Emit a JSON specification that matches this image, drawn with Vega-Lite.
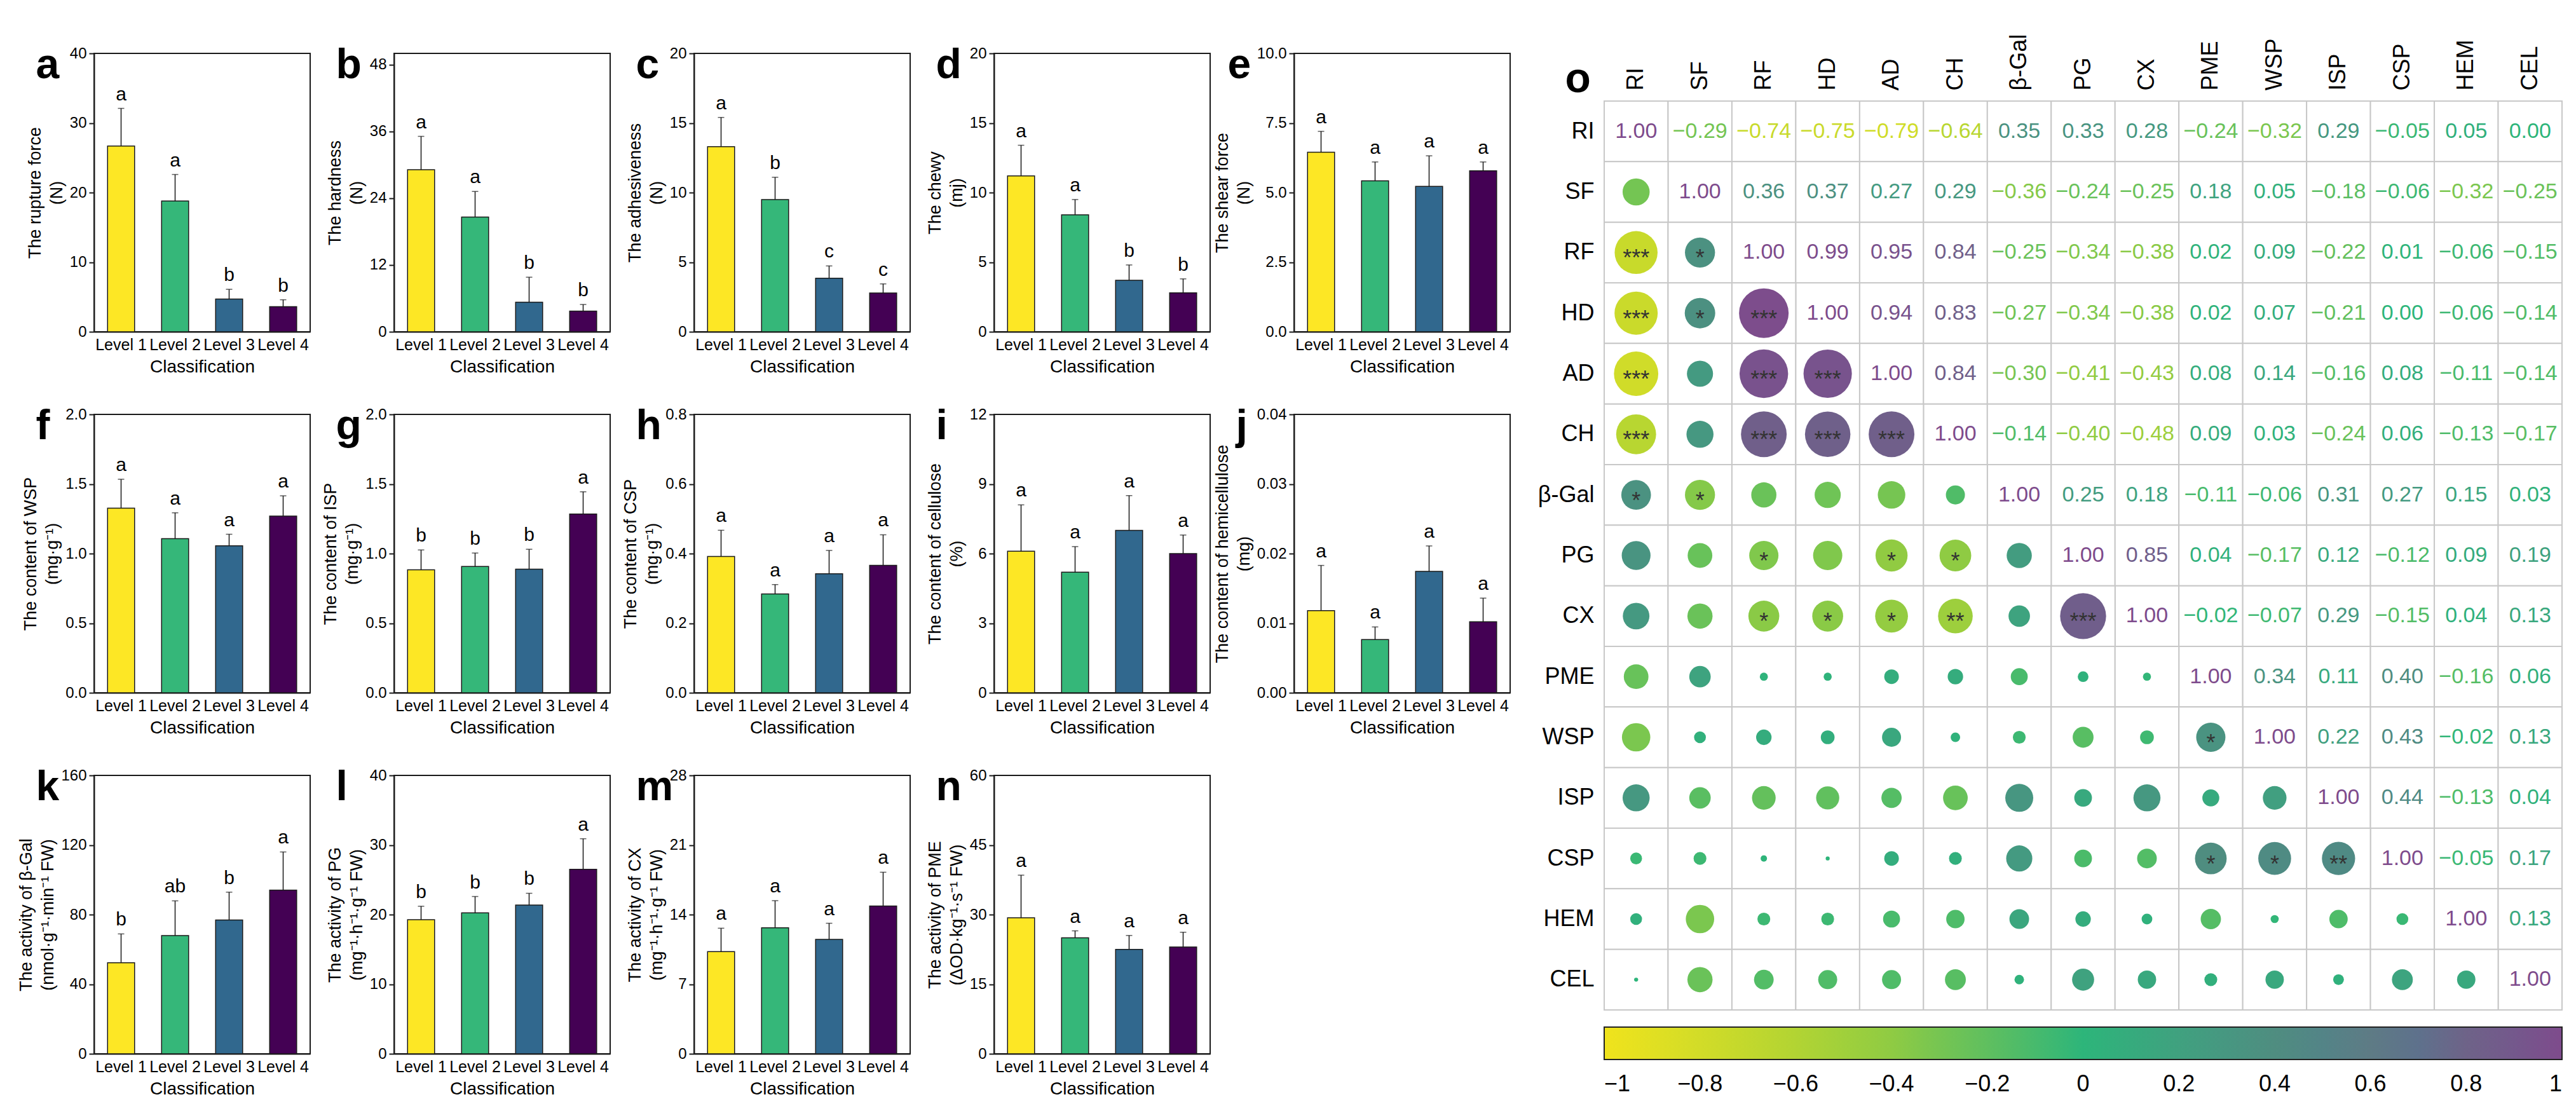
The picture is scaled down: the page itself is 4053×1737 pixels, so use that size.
{
"$schema":"https://vega.github.io/schema/vega-lite/v6.json",
"padding":{"left":26,"top":53,"right":5,"bottom":5},
"config":{
 "font":"Liberation Sans",
 "view":{"stroke":"#1a1a1a","strokeWidth":2},
 "axis":{"labelColor":"black","titleColor":"black","domainColor":"#1a1a1a","tickColor":"#1a1a1a","titleFontWeight":"normal","grid":false,"labelFont":"Liberation Sans","titleFont":"Liberation Sans"},
 "axisX":{"labelAngle":0,"labelFontSize":25,"titleFontSize":28,"ticks":false,"domainWidth":2,"labelPadding":8,"titlePadding":8},
 "axisY":{"labelFontSize":24,"titleFontSize":27,"tickSize":8,"tickWidth":2,"domainWidth":2,"labelPadding":4,"titlePadding":6,"titleLineHeight":34},
 "axisTop":{"labels":false,"ticks":false,"domain":false,"titleAngle":0,"titleAlign":"left","titleBaseline":"alphabetic","titleFontSize":66,"titleFontWeight":"bold","titleX":-92,"titleY":38},
 "legend":{"labelColor":"black","labelFont":"Liberation Sans"}
},
"datasets":{
 "a":[{"level":"Level 1","mean":26.7,"upper":32.1,"sig":"a"},{"level":"Level 2","mean":18.8,"upper":22.6,"sig":"a"},{"level":"Level 3","mean":4.7,"upper":6.1,"sig":"b"},{"level":"Level 4","mean":3.6,"upper":4.6,"sig":"b"}],
 "b":[{"level":"Level 1","mean":29.1,"upper":35.1,"sig":"a"},{"level":"Level 2","mean":20.6,"upper":25.2,"sig":"a"},{"level":"Level 3","mean":5.3,"upper":9.8,"sig":"b"},{"level":"Level 4","mean":3.7,"upper":4.9,"sig":"b"}],
 "c":[{"level":"Level 1","mean":13.3,"upper":15.4,"sig":"a"},{"level":"Level 2","mean":9.5,"upper":11.1,"sig":"b"},{"level":"Level 3","mean":3.85,"upper":4.73,"sig":"c"},{"level":"Level 4","mean":2.78,"upper":3.44,"sig":"c"}],
 "d":[{"level":"Level 1","mean":11.2,"upper":13.4,"sig":"a"},{"level":"Level 2","mean":8.4,"upper":9.5,"sig":"a"},{"level":"Level 3","mean":3.7,"upper":4.8,"sig":"b"},{"level":"Level 4","mean":2.8,"upper":3.8,"sig":"b"}],
 "e":[{"level":"Level 1","mean":6.45,"upper":7.2,"sig":"a"},{"level":"Level 2","mean":5.42,"upper":6.1,"sig":"a"},{"level":"Level 3","mean":5.22,"upper":6.32,"sig":"a"},{"level":"Level 4","mean":5.78,"upper":6.1,"sig":"a"}],
 "f":[{"level":"Level 1","mean":1.327,"upper":1.534,"sig":"a"},{"level":"Level 2","mean":1.107,"upper":1.293,"sig":"a"},{"level":"Level 3","mean":1.056,"upper":1.139,"sig":"a"},{"level":"Level 4","mean":1.269,"upper":1.415,"sig":"a"}],
 "g":[{"level":"Level 1","mean":0.883,"upper":1.026,"sig":"b"},{"level":"Level 2","mean":0.908,"upper":1.004,"sig":"b"},{"level":"Level 3","mean":0.888,"upper":1.031,"sig":"b"},{"level":"Level 4","mean":1.284,"upper":1.444,"sig":"a"}],
 "h":[{"level":"Level 1","mean":0.392,"upper":0.467,"sig":"a"},{"level":"Level 2","mean":0.284,"upper":0.311,"sig":"a"},{"level":"Level 3","mean":0.342,"upper":0.409,"sig":"a"},{"level":"Level 4","mean":0.366,"upper":0.454,"sig":"a"}],
 "i":[{"level":"Level 1","mean":6.1,"upper":8.1,"sig":"a"},{"level":"Level 2","mean":5.2,"upper":6.3,"sig":"a"},{"level":"Level 3","mean":7.0,"upper":8.5,"sig":"a"},{"level":"Level 4","mean":6.0,"upper":6.8,"sig":"a"}],
 "j":[{"level":"Level 1","mean":0.0118,"upper":0.0183,"sig":"a"},{"level":"Level 2","mean":0.00765,"upper":0.00946,"sig":"a"},{"level":"Level 3","mean":0.01744,"upper":0.0211,"sig":"a"},{"level":"Level 4","mean":0.0102,"upper":0.0136,"sig":"a"}],
 "k":[{"level":"Level 1","mean":52.3,"upper":68.9,"sig":"b"},{"level":"Level 2","mean":67.9,"upper":87.9,"sig":"ab"},{"level":"Level 3","mean":76.9,"upper":92.9,"sig":"b"},{"level":"Level 4","mean":94.1,"upper":116,"sig":"a"}],
 "l":[{"level":"Level 1","mean":19.27,"upper":21.2,"sig":"b"},{"level":"Level 2","mean":20.24,"upper":22.6,"sig":"b"},{"level":"Level 3","mean":21.36,"upper":23.06,"sig":"b"},{"level":"Level 4","mean":26.5,"upper":30.9,"sig":"a"}],
 "m":[{"level":"Level 1","mean":10.27,"upper":12.63,"sig":"a"},{"level":"Level 2","mean":12.68,"upper":15.4,"sig":"a"},{"level":"Level 3","mean":11.5,"upper":13.13,"sig":"a"},{"level":"Level 4","mean":14.87,"upper":18.26,"sig":"a"}],
 "n":[{"level":"Level 1","mean":29.3,"upper":38.5,"sig":"a"},{"level":"Level 2","mean":25.0,"upper":26.5,"sig":"a"},{"level":"Level 3","mean":22.5,"upper":25.5,"sig":"a"},{"level":"Level 4","mean":23.0,"upper":26.2,"sig":"a"}],
 "corr":[
{"row":"RI","col":"RI","r":1,"part":"u"},{"row":"RI","col":"SF","r":-0.29,"part":"u"},{"row":"RI","col":"RF","r":-0.74,"part":"u"},{"row":"RI","col":"HD","r":-0.75,"part":"u"},{"row":"RI","col":"AD","r":-0.79,"part":"u"},{"row":"RI","col":"CH","r":-0.64,"part":"u"},{"row":"RI","col":"β-Gal","r":0.35,"part":"u"},{"row":"RI","col":"PG","r":0.33,"part":"u"},{"row":"RI","col":"CX","r":0.28,"part":"u"},{"row":"RI","col":"PME","r":-0.24,"part":"u"},{"row":"RI","col":"WSP","r":-0.32,"part":"u"},{"row":"RI","col":"ISP","r":0.29,"part":"u"},{"row":"RI","col":"CSP","r":-0.05,"part":"u"},{"row":"RI","col":"HEM","r":0.05,"part":"u"},{"row":"RI","col":"CEL","r":0,"part":"u"},
{"row":"SF","col":"SF","r":1,"part":"u"},{"row":"SF","col":"RF","r":0.36,"part":"u"},{"row":"SF","col":"HD","r":0.37,"part":"u"},{"row":"SF","col":"AD","r":0.27,"part":"u"},{"row":"SF","col":"CH","r":0.29,"part":"u"},{"row":"SF","col":"β-Gal","r":-0.36,"part":"u"},{"row":"SF","col":"PG","r":-0.24,"part":"u"},{"row":"SF","col":"CX","r":-0.25,"part":"u"},{"row":"SF","col":"PME","r":0.18,"part":"u"},{"row":"SF","col":"WSP","r":0.05,"part":"u"},{"row":"SF","col":"ISP","r":-0.18,"part":"u"},{"row":"SF","col":"CSP","r":-0.06,"part":"u"},{"row":"SF","col":"HEM","r":-0.32,"part":"u"},{"row":"SF","col":"CEL","r":-0.25,"part":"u"},
{"row":"RF","col":"RF","r":1,"part":"u"},{"row":"RF","col":"HD","r":0.99,"part":"u"},{"row":"RF","col":"AD","r":0.95,"part":"u"},{"row":"RF","col":"CH","r":0.84,"part":"u"},{"row":"RF","col":"β-Gal","r":-0.25,"part":"u"},{"row":"RF","col":"PG","r":-0.34,"part":"u"},{"row":"RF","col":"CX","r":-0.38,"part":"u"},{"row":"RF","col":"PME","r":0.02,"part":"u"},{"row":"RF","col":"WSP","r":0.09,"part":"u"},{"row":"RF","col":"ISP","r":-0.22,"part":"u"},{"row":"RF","col":"CSP","r":0.01,"part":"u"},{"row":"RF","col":"HEM","r":-0.06,"part":"u"},{"row":"RF","col":"CEL","r":-0.15,"part":"u"},
{"row":"HD","col":"HD","r":1,"part":"u"},{"row":"HD","col":"AD","r":0.94,"part":"u"},{"row":"HD","col":"CH","r":0.83,"part":"u"},{"row":"HD","col":"β-Gal","r":-0.27,"part":"u"},{"row":"HD","col":"PG","r":-0.34,"part":"u"},{"row":"HD","col":"CX","r":-0.38,"part":"u"},{"row":"HD","col":"PME","r":0.02,"part":"u"},{"row":"HD","col":"WSP","r":0.07,"part":"u"},{"row":"HD","col":"ISP","r":-0.21,"part":"u"},{"row":"HD","col":"CSP","r":0,"part":"u"},{"row":"HD","col":"HEM","r":-0.06,"part":"u"},{"row":"HD","col":"CEL","r":-0.14,"part":"u"},
{"row":"AD","col":"AD","r":1,"part":"u"},{"row":"AD","col":"CH","r":0.84,"part":"u"},{"row":"AD","col":"β-Gal","r":-0.30,"part":"u"},{"row":"AD","col":"PG","r":-0.41,"part":"u"},{"row":"AD","col":"CX","r":-0.43,"part":"u"},{"row":"AD","col":"PME","r":0.08,"part":"u"},{"row":"AD","col":"WSP","r":0.14,"part":"u"},{"row":"AD","col":"ISP","r":-0.16,"part":"u"},{"row":"AD","col":"CSP","r":0.08,"part":"u"},{"row":"AD","col":"HEM","r":-0.11,"part":"u"},{"row":"AD","col":"CEL","r":-0.14,"part":"u"},
{"row":"CH","col":"CH","r":1,"part":"u"},{"row":"CH","col":"β-Gal","r":-0.14,"part":"u"},{"row":"CH","col":"PG","r":-0.40,"part":"u"},{"row":"CH","col":"CX","r":-0.48,"part":"u"},{"row":"CH","col":"PME","r":0.09,"part":"u"},{"row":"CH","col":"WSP","r":0.03,"part":"u"},{"row":"CH","col":"ISP","r":-0.24,"part":"u"},{"row":"CH","col":"CSP","r":0.06,"part":"u"},{"row":"CH","col":"HEM","r":-0.13,"part":"u"},{"row":"CH","col":"CEL","r":-0.17,"part":"u"},
{"row":"β-Gal","col":"β-Gal","r":1,"part":"u"},{"row":"β-Gal","col":"PG","r":0.25,"part":"u"},{"row":"β-Gal","col":"CX","r":0.18,"part":"u"},{"row":"β-Gal","col":"PME","r":-0.11,"part":"u"},{"row":"β-Gal","col":"WSP","r":-0.06,"part":"u"},{"row":"β-Gal","col":"ISP","r":0.31,"part":"u"},{"row":"β-Gal","col":"CSP","r":0.27,"part":"u"},{"row":"β-Gal","col":"HEM","r":0.15,"part":"u"},{"row":"β-Gal","col":"CEL","r":0.03,"part":"u"},
{"row":"PG","col":"PG","r":1,"part":"u"},{"row":"PG","col":"CX","r":0.85,"part":"u"},{"row":"PG","col":"PME","r":0.04,"part":"u"},{"row":"PG","col":"WSP","r":-0.17,"part":"u"},{"row":"PG","col":"ISP","r":0.12,"part":"u"},{"row":"PG","col":"CSP","r":-0.12,"part":"u"},{"row":"PG","col":"HEM","r":0.09,"part":"u"},{"row":"PG","col":"CEL","r":0.19,"part":"u"},
{"row":"CX","col":"CX","r":1,"part":"u"},{"row":"CX","col":"PME","r":-0.02,"part":"u"},{"row":"CX","col":"WSP","r":-0.07,"part":"u"},{"row":"CX","col":"ISP","r":0.29,"part":"u"},{"row":"CX","col":"CSP","r":-0.15,"part":"u"},{"row":"CX","col":"HEM","r":0.04,"part":"u"},{"row":"CX","col":"CEL","r":0.13,"part":"u"},
{"row":"PME","col":"PME","r":1,"part":"u"},{"row":"PME","col":"WSP","r":0.34,"part":"u"},{"row":"PME","col":"ISP","r":0.11,"part":"u"},{"row":"PME","col":"CSP","r":0.40,"part":"u"},{"row":"PME","col":"HEM","r":-0.16,"part":"u"},{"row":"PME","col":"CEL","r":0.06,"part":"u"},
{"row":"WSP","col":"WSP","r":1,"part":"u"},{"row":"WSP","col":"ISP","r":0.22,"part":"u"},{"row":"WSP","col":"CSP","r":0.43,"part":"u"},{"row":"WSP","col":"HEM","r":-0.02,"part":"u"},{"row":"WSP","col":"CEL","r":0.13,"part":"u"},
{"row":"ISP","col":"ISP","r":1,"part":"u"},{"row":"ISP","col":"CSP","r":0.44,"part":"u"},{"row":"ISP","col":"HEM","r":-0.13,"part":"u"},{"row":"ISP","col":"CEL","r":0.04,"part":"u"},
{"row":"CSP","col":"CSP","r":1,"part":"u"},{"row":"CSP","col":"HEM","r":-0.05,"part":"u"},{"row":"CSP","col":"CEL","r":0.17,"part":"u"},
{"row":"HEM","col":"HEM","r":1,"part":"u"},{"row":"HEM","col":"CEL","r":0.13,"part":"u"},
{"row":"CEL","col":"CEL","r":1,"part":"u"},
{"row":"SF","col":"RI","r":-0.29,"part":"l"},
{"row":"RF","col":"RI","r":-0.74,"part":"l","sig":"***"},{"row":"RF","col":"SF","r":0.36,"part":"l","sig":"*"},
{"row":"HD","col":"RI","r":-0.75,"part":"l","sig":"***"},{"row":"HD","col":"SF","r":0.37,"part":"l","sig":"*"},{"row":"HD","col":"RF","r":0.99,"part":"l","sig":"***"},
{"row":"AD","col":"RI","r":-0.79,"part":"l","sig":"***"},{"row":"AD","col":"SF","r":0.27,"part":"l"},{"row":"AD","col":"RF","r":0.95,"part":"l","sig":"***"},{"row":"AD","col":"HD","r":0.94,"part":"l","sig":"***"},
{"row":"CH","col":"RI","r":-0.64,"part":"l","sig":"***"},{"row":"CH","col":"SF","r":0.29,"part":"l"},{"row":"CH","col":"RF","r":0.84,"part":"l","sig":"***"},{"row":"CH","col":"HD","r":0.83,"part":"l","sig":"***"},{"row":"CH","col":"AD","r":0.84,"part":"l","sig":"***"},
{"row":"β-Gal","col":"RI","r":0.35,"part":"l","sig":"*"},{"row":"β-Gal","col":"SF","r":-0.36,"part":"l","sig":"*"},{"row":"β-Gal","col":"RF","r":-0.25,"part":"l"},{"row":"β-Gal","col":"HD","r":-0.27,"part":"l"},{"row":"β-Gal","col":"AD","r":-0.30,"part":"l"},{"row":"β-Gal","col":"CH","r":-0.14,"part":"l"},
{"row":"PG","col":"RI","r":0.33,"part":"l"},{"row":"PG","col":"SF","r":-0.24,"part":"l"},{"row":"PG","col":"RF","r":-0.34,"part":"l","sig":"*"},{"row":"PG","col":"HD","r":-0.34,"part":"l"},{"row":"PG","col":"AD","r":-0.41,"part":"l","sig":"*"},{"row":"PG","col":"CH","r":-0.40,"part":"l","sig":"*"},{"row":"PG","col":"β-Gal","r":0.25,"part":"l"},
{"row":"CX","col":"RI","r":0.28,"part":"l"},{"row":"CX","col":"SF","r":-0.25,"part":"l"},{"row":"CX","col":"RF","r":-0.38,"part":"l","sig":"*"},{"row":"CX","col":"HD","r":-0.38,"part":"l","sig":"*"},{"row":"CX","col":"AD","r":-0.43,"part":"l","sig":"*"},{"row":"CX","col":"CH","r":-0.48,"part":"l","sig":"**"},{"row":"CX","col":"β-Gal","r":0.18,"part":"l"},{"row":"CX","col":"PG","r":0.85,"part":"l","sig":"***"},
{"row":"PME","col":"RI","r":-0.24,"part":"l"},{"row":"PME","col":"SF","r":0.18,"part":"l"},{"row":"PME","col":"RF","r":0.02,"part":"l"},{"row":"PME","col":"HD","r":0.02,"part":"l"},{"row":"PME","col":"AD","r":0.08,"part":"l"},{"row":"PME","col":"CH","r":0.09,"part":"l"},{"row":"PME","col":"β-Gal","r":-0.11,"part":"l"},{"row":"PME","col":"PG","r":0.04,"part":"l"},{"row":"PME","col":"CX","r":-0.02,"part":"l"},
{"row":"WSP","col":"RI","r":-0.32,"part":"l"},{"row":"WSP","col":"SF","r":0.05,"part":"l"},{"row":"WSP","col":"RF","r":0.09,"part":"l"},{"row":"WSP","col":"HD","r":0.07,"part":"l"},{"row":"WSP","col":"AD","r":0.14,"part":"l"},{"row":"WSP","col":"CH","r":0.03,"part":"l"},{"row":"WSP","col":"β-Gal","r":-0.06,"part":"l"},{"row":"WSP","col":"PG","r":-0.17,"part":"l"},{"row":"WSP","col":"CX","r":-0.07,"part":"l"},{"row":"WSP","col":"PME","r":0.34,"part":"l","sig":"*"},
{"row":"ISP","col":"RI","r":0.29,"part":"l"},{"row":"ISP","col":"SF","r":-0.18,"part":"l"},{"row":"ISP","col":"RF","r":-0.22,"part":"l"},{"row":"ISP","col":"HD","r":-0.21,"part":"l"},{"row":"ISP","col":"AD","r":-0.16,"part":"l"},{"row":"ISP","col":"CH","r":-0.24,"part":"l"},{"row":"ISP","col":"β-Gal","r":0.31,"part":"l"},{"row":"ISP","col":"PG","r":0.12,"part":"l"},{"row":"ISP","col":"CX","r":0.29,"part":"l"},{"row":"ISP","col":"PME","r":0.11,"part":"l"},{"row":"ISP","col":"WSP","r":0.22,"part":"l"},
{"row":"CSP","col":"RI","r":-0.05,"part":"l"},{"row":"CSP","col":"SF","r":-0.06,"part":"l"},{"row":"CSP","col":"RF","r":0.01,"part":"l"},{"row":"CSP","col":"HD","r":0,"part":"l"},{"row":"CSP","col":"AD","r":0.08,"part":"l"},{"row":"CSP","col":"CH","r":0.06,"part":"l"},{"row":"CSP","col":"β-Gal","r":0.27,"part":"l"},{"row":"CSP","col":"PG","r":-0.12,"part":"l"},{"row":"CSP","col":"CX","r":-0.15,"part":"l"},{"row":"CSP","col":"PME","r":0.40,"part":"l","sig":"*"},{"row":"CSP","col":"WSP","r":0.43,"part":"l","sig":"*"},{"row":"CSP","col":"ISP","r":0.44,"part":"l","sig":"**"},
{"row":"HEM","col":"RI","r":0.05,"part":"l"},{"row":"HEM","col":"SF","r":-0.32,"part":"l"},{"row":"HEM","col":"RF","r":-0.06,"part":"l"},{"row":"HEM","col":"HD","r":-0.06,"part":"l"},{"row":"HEM","col":"AD","r":-0.11,"part":"l"},{"row":"HEM","col":"CH","r":-0.13,"part":"l"},{"row":"HEM","col":"β-Gal","r":0.15,"part":"l"},{"row":"HEM","col":"PG","r":0.09,"part":"l"},{"row":"HEM","col":"CX","r":0.04,"part":"l"},{"row":"HEM","col":"PME","r":-0.16,"part":"l"},{"row":"HEM","col":"WSP","r":-0.02,"part":"l"},{"row":"HEM","col":"ISP","r":-0.13,"part":"l"},{"row":"HEM","col":"CSP","r":-0.05,"part":"l"},
{"row":"CEL","col":"RI","r":0,"part":"l"},{"row":"CEL","col":"SF","r":-0.25,"part":"l"},{"row":"CEL","col":"RF","r":-0.15,"part":"l"},{"row":"CEL","col":"HD","r":-0.14,"part":"l"},{"row":"CEL","col":"AD","r":-0.14,"part":"l"},{"row":"CEL","col":"CH","r":-0.17,"part":"l"},{"row":"CEL","col":"β-Gal","r":0.03,"part":"l"},{"row":"CEL","col":"PG","r":0.19,"part":"l"},{"row":"CEL","col":"CX","r":0.13,"part":"l"},{"row":"CEL","col":"PME","r":0.06,"part":"l"},{"row":"CEL","col":"WSP","r":0.13,"part":"l"},{"row":"CEL","col":"ISP","r":0.04,"part":"l"},{"row":"CEL","col":"CSP","r":0.17,"part":"l"},{"row":"CEL","col":"HEM","r":0.13,"part":"l"}
 ]
},
"resolve":{"scale":{"color":"independent","size":"independent"},"legend":{"color":"independent","size":"independent"}},
"spacing":42,
"hconcat":[
 {"vconcat":[
  {"hconcat":[
   {"width":340,"height":438,"data":{"name":"a"},
    "layer":[
     {"mark":{"type":"bar","width":{"band":0.5},"stroke":"#1a1a1a","strokeWidth":1.5},"encoding":{"x":{"field":"level","type":"nominal","scale":{"paddingInner":0,"paddingOuter":0},"axis":{"orient":"bottom","title":"Classification"}},"y":{"field":"mean","type":"quantitative","scale":{"domain":[0,40]},"axis":{"values":[0,10,20,30,40],"title":["The rupture force","(N)"]}},"color":{"field":"level","type":"nominal","scale":{"domain":["Level 1","Level 2","Level 3","Level 4"],"range":["#fde725","#35b779","#31688e","#440154"]},"legend":null}}},
     {"mark":{"type":"rule","color":"#1a1a1a","strokeWidth":1.5},"encoding":{"x":{"field":"level","type":"nominal","axis":null},"y":{"field":"mean","type":"quantitative"},"y2":{"field":"upper"}}},
     {"mark":{"type":"tick","color":"#1a1a1a","thickness":1.5,"size":10},"encoding":{"x":{"field":"level","type":"nominal","axis":null},"y":{"field":"upper","type":"quantitative"}}},
     {"mark":{"type":"text","baseline":"bottom","dy":-7,"fontSize":30},"encoding":{"x":{"field":"level","type":"nominal","axis":{"orient":"top","title":"a"}},"y":{"field":"upper","type":"quantitative"},"text":{"field":"sig"}}}
    ]},
   {"width":340,"height":438,"data":{"name":"b"},
    "layer":[
     {"mark":{"type":"bar","width":{"band":0.5},"stroke":"#1a1a1a","strokeWidth":1.5},"encoding":{"x":{"field":"level","type":"nominal","scale":{"paddingInner":0,"paddingOuter":0},"axis":{"orient":"bottom","title":"Classification"}},"y":{"field":"mean","type":"quantitative","scale":{"domain":[0,50]},"axis":{"values":[0,12,24,36,48],"title":["The hardness","(N)"]}},"color":{"field":"level","type":"nominal","scale":{"domain":["Level 1","Level 2","Level 3","Level 4"],"range":["#fde725","#35b779","#31688e","#440154"]},"legend":null}}},
     {"mark":{"type":"rule","color":"#1a1a1a","strokeWidth":1.5},"encoding":{"x":{"field":"level","type":"nominal","axis":null},"y":{"field":"mean","type":"quantitative"},"y2":{"field":"upper"}}},
     {"mark":{"type":"tick","color":"#1a1a1a","thickness":1.5,"size":10},"encoding":{"x":{"field":"level","type":"nominal","axis":null},"y":{"field":"upper","type":"quantitative"}}},
     {"mark":{"type":"text","baseline":"bottom","dy":-7,"fontSize":30},"encoding":{"x":{"field":"level","type":"nominal","axis":{"orient":"top","title":"b"}},"y":{"field":"upper","type":"quantitative"},"text":{"field":"sig"}}}
    ]},
   {"width":340,"height":438,"data":{"name":"c"},
    "layer":[
     {"mark":{"type":"bar","width":{"band":0.5},"stroke":"#1a1a1a","strokeWidth":1.5},"encoding":{"x":{"field":"level","type":"nominal","scale":{"paddingInner":0,"paddingOuter":0},"axis":{"orient":"bottom","title":"Classification"}},"y":{"field":"mean","type":"quantitative","scale":{"domain":[0,20]},"axis":{"values":[0,5,10,15,20],"title":["The adhesiveness","(N)"]}},"color":{"field":"level","type":"nominal","scale":{"domain":["Level 1","Level 2","Level 3","Level 4"],"range":["#fde725","#35b779","#31688e","#440154"]},"legend":null}}},
     {"mark":{"type":"rule","color":"#1a1a1a","strokeWidth":1.5},"encoding":{"x":{"field":"level","type":"nominal","axis":null},"y":{"field":"mean","type":"quantitative"},"y2":{"field":"upper"}}},
     {"mark":{"type":"tick","color":"#1a1a1a","thickness":1.5,"size":10},"encoding":{"x":{"field":"level","type":"nominal","axis":null},"y":{"field":"upper","type":"quantitative"}}},
     {"mark":{"type":"text","baseline":"bottom","dy":-7,"fontSize":30},"encoding":{"x":{"field":"level","type":"nominal","axis":{"orient":"top","title":"c"}},"y":{"field":"upper","type":"quantitative"},"text":{"field":"sig"}}}
    ]},
   {"width":340,"height":438,"data":{"name":"d"},
    "layer":[
     {"mark":{"type":"bar","width":{"band":0.5},"stroke":"#1a1a1a","strokeWidth":1.5},"encoding":{"x":{"field":"level","type":"nominal","scale":{"paddingInner":0,"paddingOuter":0},"axis":{"orient":"bottom","title":"Classification"}},"y":{"field":"mean","type":"quantitative","scale":{"domain":[0,20]},"axis":{"values":[0,5,10,15,20],"title":["The chewy","(mj)"]}},"color":{"field":"level","type":"nominal","scale":{"domain":["Level 1","Level 2","Level 3","Level 4"],"range":["#fde725","#35b779","#31688e","#440154"]},"legend":null}}},
     {"mark":{"type":"rule","color":"#1a1a1a","strokeWidth":1.5},"encoding":{"x":{"field":"level","type":"nominal","axis":null},"y":{"field":"mean","type":"quantitative"},"y2":{"field":"upper"}}},
     {"mark":{"type":"tick","color":"#1a1a1a","thickness":1.5,"size":10},"encoding":{"x":{"field":"level","type":"nominal","axis":null},"y":{"field":"upper","type":"quantitative"}}},
     {"mark":{"type":"text","baseline":"bottom","dy":-7,"fontSize":30},"encoding":{"x":{"field":"level","type":"nominal","axis":{"orient":"top","title":"d"}},"y":{"field":"upper","type":"quantitative"},"text":{"field":"sig"}}}
    ]},
   {"width":340,"height":438,"data":{"name":"e"},
    "layer":[
     {"mark":{"type":"bar","width":{"band":0.5},"stroke":"#1a1a1a","strokeWidth":1.5},"encoding":{"x":{"field":"level","type":"nominal","scale":{"paddingInner":0,"paddingOuter":0},"axis":{"orient":"bottom","title":"Classification"}},"y":{"field":"mean","type":"quantitative","scale":{"domain":[0,10]},"axis":{"values":[0,2.5,5,7.5,10],"format":".1f","title":["The shear force","(N)"]}},"color":{"field":"level","type":"nominal","scale":{"domain":["Level 1","Level 2","Level 3","Level 4"],"range":["#fde725","#35b779","#31688e","#440154"]},"legend":null}}},
     {"mark":{"type":"rule","color":"#1a1a1a","strokeWidth":1.5},"encoding":{"x":{"field":"level","type":"nominal","axis":null},"y":{"field":"mean","type":"quantitative"},"y2":{"field":"upper"}}},
     {"mark":{"type":"tick","color":"#1a1a1a","thickness":1.5,"size":10},"encoding":{"x":{"field":"level","type":"nominal","axis":null},"y":{"field":"upper","type":"quantitative"}}},
     {"mark":{"type":"text","baseline":"bottom","dy":-7,"fontSize":30},"encoding":{"x":{"field":"level","type":"nominal","axis":{"orient":"top","title":"e","titleX":-105}},"y":{"field":"upper","type":"quantitative"},"text":{"field":"sig"}}}
    ]}
  ],"spacing":132,"bounds":"flush"},
  {"hconcat":[
   {"width":340,"height":438,"data":{"name":"f"},
    "layer":[
     {"mark":{"type":"bar","width":{"band":0.5},"stroke":"#1a1a1a","strokeWidth":1.5},"encoding":{"x":{"field":"level","type":"nominal","scale":{"paddingInner":0,"paddingOuter":0},"axis":{"orient":"bottom","title":"Classification"}},"y":{"field":"mean","type":"quantitative","scale":{"domain":[0,2]},"axis":{"values":[0,0.5,1,1.5,2],"format":".1f","title":["The content of WSP","(mg·g⁻¹)"]}},"color":{"field":"level","type":"nominal","scale":{"domain":["Level 1","Level 2","Level 3","Level 4"],"range":["#fde725","#35b779","#31688e","#440154"]},"legend":null}}},
     {"mark":{"type":"rule","color":"#1a1a1a","strokeWidth":1.5},"encoding":{"x":{"field":"level","type":"nominal","axis":null},"y":{"field":"mean","type":"quantitative"},"y2":{"field":"upper"}}},
     {"mark":{"type":"tick","color":"#1a1a1a","thickness":1.5,"size":10},"encoding":{"x":{"field":"level","type":"nominal","axis":null},"y":{"field":"upper","type":"quantitative"}}},
     {"mark":{"type":"text","baseline":"bottom","dy":-7,"fontSize":30},"encoding":{"x":{"field":"level","type":"nominal","axis":{"orient":"top","title":"f"}},"y":{"field":"upper","type":"quantitative"},"text":{"field":"sig"}}}
    ]},
   {"width":340,"height":438,"data":{"name":"g"},
    "layer":[
     {"mark":{"type":"bar","width":{"band":0.5},"stroke":"#1a1a1a","strokeWidth":1.5},"encoding":{"x":{"field":"level","type":"nominal","scale":{"paddingInner":0,"paddingOuter":0},"axis":{"orient":"bottom","title":"Classification"}},"y":{"field":"mean","type":"quantitative","scale":{"domain":[0,2]},"axis":{"values":[0,0.5,1,1.5,2],"format":".1f","title":["The content of ISP","(mg·g⁻¹)"]}},"color":{"field":"level","type":"nominal","scale":{"domain":["Level 1","Level 2","Level 3","Level 4"],"range":["#fde725","#35b779","#31688e","#440154"]},"legend":null}}},
     {"mark":{"type":"rule","color":"#1a1a1a","strokeWidth":1.5},"encoding":{"x":{"field":"level","type":"nominal","axis":null},"y":{"field":"mean","type":"quantitative"},"y2":{"field":"upper"}}},
     {"mark":{"type":"tick","color":"#1a1a1a","thickness":1.5,"size":10},"encoding":{"x":{"field":"level","type":"nominal","axis":null},"y":{"field":"upper","type":"quantitative"}}},
     {"mark":{"type":"text","baseline":"bottom","dy":-7,"fontSize":30},"encoding":{"x":{"field":"level","type":"nominal","axis":{"orient":"top","title":"g"}},"y":{"field":"upper","type":"quantitative"},"text":{"field":"sig"}}}
    ]},
   {"width":340,"height":438,"data":{"name":"h"},
    "layer":[
     {"mark":{"type":"bar","width":{"band":0.5},"stroke":"#1a1a1a","strokeWidth":1.5},"encoding":{"x":{"field":"level","type":"nominal","scale":{"paddingInner":0,"paddingOuter":0},"axis":{"orient":"bottom","title":"Classification"}},"y":{"field":"mean","type":"quantitative","scale":{"domain":[0,0.8]},"axis":{"values":[0,0.2,0.4,0.6,0.8],"format":".1f","title":["The content of CSP","(mg·g⁻¹)"]}},"color":{"field":"level","type":"nominal","scale":{"domain":["Level 1","Level 2","Level 3","Level 4"],"range":["#fde725","#35b779","#31688e","#440154"]},"legend":null}}},
     {"mark":{"type":"rule","color":"#1a1a1a","strokeWidth":1.5},"encoding":{"x":{"field":"level","type":"nominal","axis":null},"y":{"field":"mean","type":"quantitative"},"y2":{"field":"upper"}}},
     {"mark":{"type":"tick","color":"#1a1a1a","thickness":1.5,"size":10},"encoding":{"x":{"field":"level","type":"nominal","axis":null},"y":{"field":"upper","type":"quantitative"}}},
     {"mark":{"type":"text","baseline":"bottom","dy":-7,"fontSize":30},"encoding":{"x":{"field":"level","type":"nominal","axis":{"orient":"top","title":"h"}},"y":{"field":"upper","type":"quantitative"},"text":{"field":"sig"}}}
    ]},
   {"width":340,"height":438,"data":{"name":"i"},
    "layer":[
     {"mark":{"type":"bar","width":{"band":0.5},"stroke":"#1a1a1a","strokeWidth":1.5},"encoding":{"x":{"field":"level","type":"nominal","scale":{"paddingInner":0,"paddingOuter":0},"axis":{"orient":"bottom","title":"Classification"}},"y":{"field":"mean","type":"quantitative","scale":{"domain":[0,12]},"axis":{"values":[0,3,6,9,12],"title":["The content of cellulose","(%)"]}},"color":{"field":"level","type":"nominal","scale":{"domain":["Level 1","Level 2","Level 3","Level 4"],"range":["#fde725","#35b779","#31688e","#440154"]},"legend":null}}},
     {"mark":{"type":"rule","color":"#1a1a1a","strokeWidth":1.5},"encoding":{"x":{"field":"level","type":"nominal","axis":null},"y":{"field":"mean","type":"quantitative"},"y2":{"field":"upper"}}},
     {"mark":{"type":"tick","color":"#1a1a1a","thickness":1.5,"size":10},"encoding":{"x":{"field":"level","type":"nominal","axis":null},"y":{"field":"upper","type":"quantitative"}}},
     {"mark":{"type":"text","baseline":"bottom","dy":-7,"fontSize":30},"encoding":{"x":{"field":"level","type":"nominal","axis":{"orient":"top","title":"i"}},"y":{"field":"upper","type":"quantitative"},"text":{"field":"sig"}}}
    ]},
   {"width":340,"height":438,"data":{"name":"j"},
    "layer":[
     {"mark":{"type":"bar","width":{"band":0.5},"stroke":"#1a1a1a","strokeWidth":1.5},"encoding":{"x":{"field":"level","type":"nominal","scale":{"paddingInner":0,"paddingOuter":0},"axis":{"orient":"bottom","title":"Classification"}},"y":{"field":"mean","type":"quantitative","scale":{"domain":[0,0.04]},"axis":{"values":[0,0.01,0.02,0.03,0.04],"format":".2f","title":["The content of hemicellulose","(mg)"]}},"color":{"field":"level","type":"nominal","scale":{"domain":["Level 1","Level 2","Level 3","Level 4"],"range":["#fde725","#35b779","#31688e","#440154"]},"legend":null}}},
     {"mark":{"type":"rule","color":"#1a1a1a","strokeWidth":1.5},"encoding":{"x":{"field":"level","type":"nominal","axis":null},"y":{"field":"mean","type":"quantitative"},"y2":{"field":"upper"}}},
     {"mark":{"type":"tick","color":"#1a1a1a","thickness":1.5,"size":10},"encoding":{"x":{"field":"level","type":"nominal","axis":null},"y":{"field":"upper","type":"quantitative"}}},
     {"mark":{"type":"text","baseline":"bottom","dy":-7,"fontSize":30},"encoding":{"x":{"field":"level","type":"nominal","axis":{"orient":"top","title":"j"}},"y":{"field":"upper","type":"quantitative"},"text":{"field":"sig"}}}
    ]}
  ],"spacing":132,"bounds":"flush"},
  {"hconcat":[
   {"width":340,"height":438,"data":{"name":"k"},
    "layer":[
     {"mark":{"type":"bar","width":{"band":0.5},"stroke":"#1a1a1a","strokeWidth":1.5},"encoding":{"x":{"field":"level","type":"nominal","scale":{"paddingInner":0,"paddingOuter":0},"axis":{"orient":"bottom","title":"Classification"}},"y":{"field":"mean","type":"quantitative","scale":{"domain":[0,160]},"axis":{"values":[0,40,80,120,160],"title":["The activity of β-Gal","(nmol·g⁻¹·min⁻¹ FW)"]}},"color":{"field":"level","type":"nominal","scale":{"domain":["Level 1","Level 2","Level 3","Level 4"],"range":["#fde725","#35b779","#31688e","#440154"]},"legend":null}}},
     {"mark":{"type":"rule","color":"#1a1a1a","strokeWidth":1.5},"encoding":{"x":{"field":"level","type":"nominal","axis":null},"y":{"field":"mean","type":"quantitative"},"y2":{"field":"upper"}}},
     {"mark":{"type":"tick","color":"#1a1a1a","thickness":1.5,"size":10},"encoding":{"x":{"field":"level","type":"nominal","axis":null},"y":{"field":"upper","type":"quantitative"}}},
     {"mark":{"type":"text","baseline":"bottom","dy":-7,"fontSize":30},"encoding":{"x":{"field":"level","type":"nominal","axis":{"orient":"top","title":"k"}},"y":{"field":"upper","type":"quantitative"},"text":{"field":"sig"}}}
    ]},
   {"width":340,"height":438,"data":{"name":"l"},
    "layer":[
     {"mark":{"type":"bar","width":{"band":0.5},"stroke":"#1a1a1a","strokeWidth":1.5},"encoding":{"x":{"field":"level","type":"nominal","scale":{"paddingInner":0,"paddingOuter":0},"axis":{"orient":"bottom","title":"Classification"}},"y":{"field":"mean","type":"quantitative","scale":{"domain":[0,40]},"axis":{"values":[0,10,20,30,40],"title":["The activity of PG","(mg⁻¹·h⁻¹·g⁻¹ FW)"]}},"color":{"field":"level","type":"nominal","scale":{"domain":["Level 1","Level 2","Level 3","Level 4"],"range":["#fde725","#35b779","#31688e","#440154"]},"legend":null}}},
     {"mark":{"type":"rule","color":"#1a1a1a","strokeWidth":1.5},"encoding":{"x":{"field":"level","type":"nominal","axis":null},"y":{"field":"mean","type":"quantitative"},"y2":{"field":"upper"}}},
     {"mark":{"type":"tick","color":"#1a1a1a","thickness":1.5,"size":10},"encoding":{"x":{"field":"level","type":"nominal","axis":null},"y":{"field":"upper","type":"quantitative"}}},
     {"mark":{"type":"text","baseline":"bottom","dy":-7,"fontSize":30},"encoding":{"x":{"field":"level","type":"nominal","axis":{"orient":"top","title":"l"}},"y":{"field":"upper","type":"quantitative"},"text":{"field":"sig"}}}
    ]},
   {"width":340,"height":438,"data":{"name":"m"},
    "layer":[
     {"mark":{"type":"bar","width":{"band":0.5},"stroke":"#1a1a1a","strokeWidth":1.5},"encoding":{"x":{"field":"level","type":"nominal","scale":{"paddingInner":0,"paddingOuter":0},"axis":{"orient":"bottom","title":"Classification"}},"y":{"field":"mean","type":"quantitative","scale":{"domain":[0,28]},"axis":{"values":[0,7,14,21,28],"title":["The activity of CX","(mg⁻¹·h⁻¹·g⁻¹ FW)"]}},"color":{"field":"level","type":"nominal","scale":{"domain":["Level 1","Level 2","Level 3","Level 4"],"range":["#fde725","#35b779","#31688e","#440154"]},"legend":null}}},
     {"mark":{"type":"rule","color":"#1a1a1a","strokeWidth":1.5},"encoding":{"x":{"field":"level","type":"nominal","axis":null},"y":{"field":"mean","type":"quantitative"},"y2":{"field":"upper"}}},
     {"mark":{"type":"tick","color":"#1a1a1a","thickness":1.5,"size":10},"encoding":{"x":{"field":"level","type":"nominal","axis":null},"y":{"field":"upper","type":"quantitative"}}},
     {"mark":{"type":"text","baseline":"bottom","dy":-7,"fontSize":30},"encoding":{"x":{"field":"level","type":"nominal","axis":{"orient":"top","title":"m"}},"y":{"field":"upper","type":"quantitative"},"text":{"field":"sig"}}}
    ]},
   {"width":340,"height":438,"data":{"name":"n"},
    "layer":[
     {"mark":{"type":"bar","width":{"band":0.5},"stroke":"#1a1a1a","strokeWidth":1.5},"encoding":{"x":{"field":"level","type":"nominal","scale":{"paddingInner":0,"paddingOuter":0},"axis":{"orient":"bottom","title":"Classification"}},"y":{"field":"mean","type":"quantitative","scale":{"domain":[0,60]},"axis":{"values":[0,15,30,45,60],"title":["The activity of PME","(ΔOD·kg⁻¹·s⁻¹ FW)"]}},"color":{"field":"level","type":"nominal","scale":{"domain":["Level 1","Level 2","Level 3","Level 4"],"range":["#fde725","#35b779","#31688e","#440154"]},"legend":null}}},
     {"mark":{"type":"rule","color":"#1a1a1a","strokeWidth":1.5},"encoding":{"x":{"field":"level","type":"nominal","axis":null},"y":{"field":"mean","type":"quantitative"},"y2":{"field":"upper"}}},
     {"mark":{"type":"tick","color":"#1a1a1a","thickness":1.5,"size":10},"encoding":{"x":{"field":"level","type":"nominal","axis":null},"y":{"field":"upper","type":"quantitative"}}},
     {"mark":{"type":"text","baseline":"bottom","dy":-7,"fontSize":30},"encoding":{"x":{"field":"level","type":"nominal","axis":{"orient":"top","title":"n"}},"y":{"field":"upper","type":"quantitative"},"text":{"field":"sig"}}}
    ]}
  ],"spacing":132,"bounds":"flush"}
 ],"spacing":44},
 {"vconcat":[
  {"width":1507,"height":1,"data":{"values":[]},"mark":"rect","encoding":{},"view":{"stroke":null,"fill":"white"}},
  {"width":1507,"height":1430,"data":{"name":"corr"},"view":{"stroke":null},
   "encoding":{
    "x":{"field":"col","type":"nominal","sort":["RI","SF","RF","HD","AD","CH","β-Gal","PG","CX","PME","WSP","ISP","CSP","HEM","CEL"],"scale":{"paddingInner":0,"paddingOuter":0},"axis":{"orient":"top","title":null,"labels":true,"labelAngle":270,"labelAlign":"left","labelBaseline":"middle","labelFontSize":36,"labelPadding":17,"ticks":false,"domain":false}},
    "y":{"field":"row","type":"nominal","sort":["RI","SF","RF","HD","AD","CH","β-Gal","PG","CX","PME","WSP","ISP","CSP","HEM","CEL"],"scale":{"paddingInner":0,"paddingOuter":0},"axis":{"title":"o","titleAngle":0,"titleFontSize":66,"titleFontWeight":"bold","titleX":-62,"titleY":-15,"titleAlign":"left","titleBaseline":"alphabetic","labelFontSize":36,"labelPadding":16,"ticks":false,"domain":false}}
   },
   "layer":[
    {"mark":{"type":"rect","fill":"white","stroke":"#c8c8c8","strokeWidth":2}},
    {"transform":[{"filter":"datum.part == 'u'"}],"mark":{"type":"text","fontSize":34},
     "encoding":{"text":{"field":"r","type":"quantitative","format":".2f"},
      "color":{"field":"r","type":"quantitative","scale":{"domain":[-1,-0.8,-0.6,-0.4,-0.2,0,0.2,0.4,0.6,0.8,1],"range":["#f0e31c","#d2dc28","#b2d433","#8fcb43","#5fbf5f","#2db57a","#40a17f","#4f8d80","#5e7b85","#6e6388","#7e4b8c"]},
       "legend":{"title":null,"orient":"bottom","direction":"horizontal","gradientLength":1507,"gradientThickness":51,"values":[-1,-0.8,-0.6,-0.4,-0.2,0,0.2,0.4,0.6,0.8,1],"format":"~g","labelFontSize":36,"labelAlign":"center","offset":26,"gradientStrokeColor":"#222","gradientStrokeWidth":2,"labelOffset":22}}}},
    {"transform":[{"filter":"datum.part == 'l'"}],"mark":{"type":"point","filled":true,"shape":"circle","opacity":1},
     "encoding":{"size":{"field":"r","type":"quantitative","scale":{"domain":[-1,0,1],"range":[6150,40,6150]},"legend":null},
      "color":{"field":"r","type":"quantitative","scale":{"domain":[-1,-0.8,-0.6,-0.4,-0.2,0,0.2,0.4,0.6,0.8,1],"range":["#f0e31c","#d2dc28","#b2d433","#8fcb43","#5fbf5f","#2db57a","#40a17f","#4f8d80","#5e7b85","#6e6388","#7e4b8c"]},
       "legend":{"title":null,"orient":"bottom","direction":"horizontal","gradientLength":1507,"gradientThickness":51,"values":[-1,-0.8,-0.6,-0.4,-0.2,0,0.2,0.4,0.6,0.8,1],"format":"~g","labelFontSize":36,"labelAlign":"center","offset":26,"gradientStrokeColor":"#222","gradientStrokeWidth":2,"labelOffset":22}}}},
    {"transform":[{"filter":"datum.sig"}],"mark":{"type":"text","fontSize":36,"dy":10,"color":"#333333"},"encoding":{"text":{"field":"sig"}}}
   ]}
 ],"spacing":-32}
]
}
